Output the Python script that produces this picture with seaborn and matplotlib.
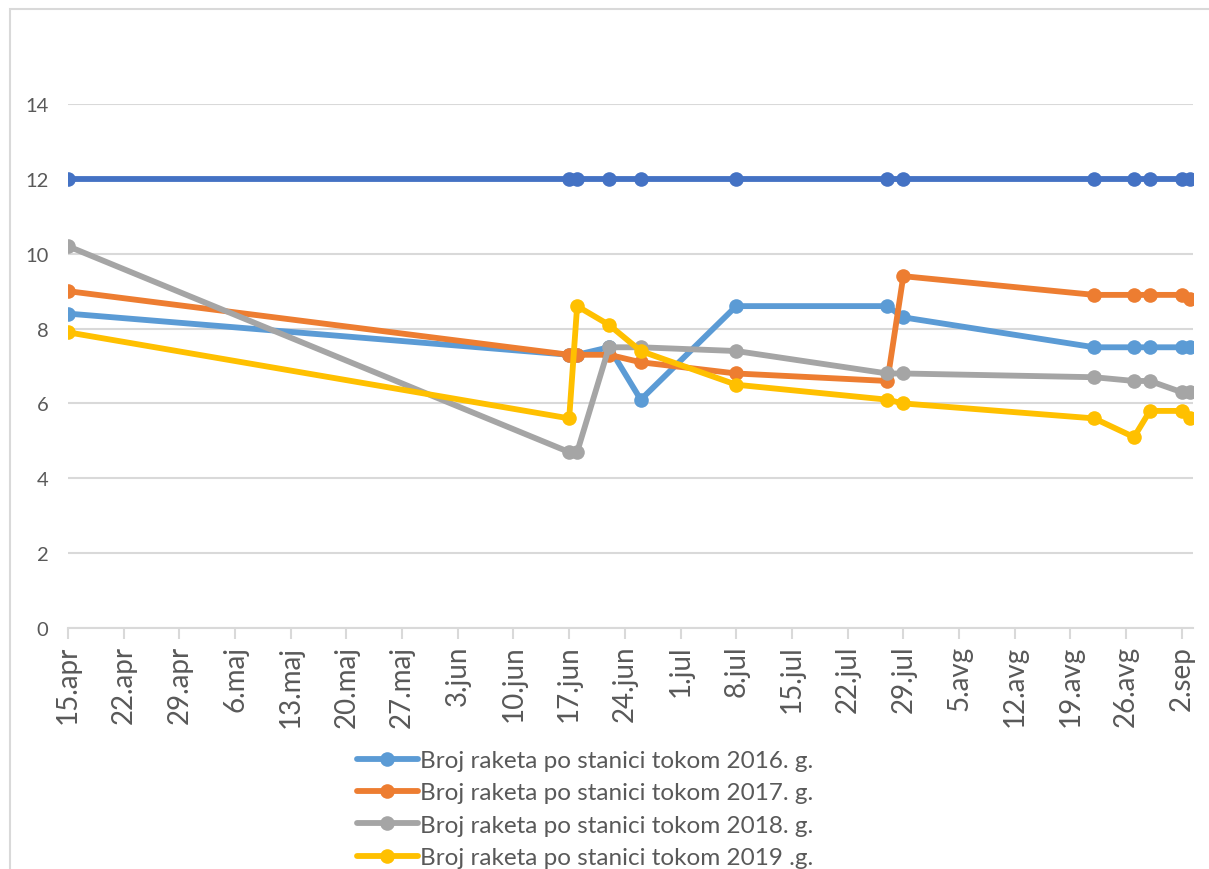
import seaborn as sns
from matplotlib import pyplot as plt
from matplotlib.patches import Rectangle
import pandas as pd

# dates of measurements (year is arbitrary)
dates = pd.to_datetime([
    "2019-04-15", "2019-06-17", "2019-06-18", "2019-06-22", "2019-06-26",
    "2019-07-08", "2019-07-27", "2019-07-29", "2019-08-22", "2019-08-27",
    "2019-08-29", "2019-09-02", "2019-09-03",
])

stanice = [12, 12, 12, 12, 12, 12, 12, 12, 12, 12, 12, 12, 12]
rakete_2016 = [8.4, 7.3, 7.3, 7.5, 6.1, 8.6, 8.6, 8.3, 7.5, 7.5, 7.5, 7.5, 7.5]
rakete_2017 = [9.0, 7.3, 7.3, 7.3, 7.1, 6.8, 6.6, 9.4, 8.9, 8.9, 8.9, 8.9, 8.8]
rakete_2018 = [10.2, 4.7, 4.7, 7.5, 7.5, 7.4, 6.8, 6.8, 6.7, 6.6, 6.6, 6.3, 6.3]
rakete_2019 = [7.9, 5.6, 8.6, 8.1, 7.4, 6.5, 6.1, 6.0, 5.6, 5.1, 5.8, 5.8, 5.6]

series_names = [
    "Broj raketa po stanici tokom 2016. g.",
    "Broj raketa po stanici tokom 2017. g.",
    "Broj raketa po stanici tokom 2018. g.",
    "Broj raketa po stanici tokom 2019 .g.",
]

tick_dates = pd.date_range("2019-04-15", "2019-09-02", freq="7D")
tick_labels = [
    "15.apr", "22.apr", "29.apr", "6.maj", "13.maj", "20.maj", "27.maj",
    "3.jun", "10.jun", "17.jun", "24.jun", "1.jul", "8.jul", "15.jul",
    "22.jul", "29.jul", "5.avg", "12.avg", "19.avg", "26.avg", "2.sep",
]

sns.set_theme(style="white")
plt.rcParams['font.family'] = ['Lato', 'DejaVu Sans']

fig = plt.figure(figsize=(12.09, 8.70), dpi=100)
ax = fig.add_axes([68 / 1209, 1 - 629 / 870, (1193 - 68) / 1209, (629 - 105) / 870])

# chart area border (cropped at right and bottom like the reference)
fig.patches.append(Rectangle((10 / 1209, -0.1), 1.2, 1 - 10 / 870 + 0.1,
                             transform=fig.transFigure, fill=False,
                             edgecolor='#D9D9D9', linewidth=1.5))

line_style = dict(marker='o', markersize=10.5, linewidth=4.2, markeredgewidth=0)

sns.lineplot(x=dates, y=stanice, color='#4472C4', ax=ax, **line_style)
colors = ['#5B9BD5', '#ED7D31', '#A5A5A5', '#FFC000']
for vals, name, c in zip([rakete_2016, rakete_2017, rakete_2018, rakete_2019], series_names, colors):
    sns.lineplot(x=dates, y=vals, color=c, label=name, ax=ax, **line_style)

ax.set_ylim(0, 14)
ax.set_yticks(range(0, 15, 2))
ax.set_xlim(pd.Timestamp("2019-04-15"), pd.Timestamp("2019-09-03 10:00"))
ax.set_xticks(tick_dates)
ax.set_xticklabels(tick_labels, rotation=90)
ax.set_xlabel("")
ax.set_ylabel("")

ax.grid(axis='y', color='#D9D9D9', linewidth=1.5)
ax.set_axisbelow(True)
for s in ['top', 'right', 'left']:
    ax.spines[s].set_visible(False)
ax.spines['bottom'].set_color('#D9D9D9')
ax.spines['bottom'].set_linewidth(1.5)
ax.tick_params(axis='x', which='major', bottom=True, length=8, width=1.5,
               color='#D9D9D9', labelsize=20, labelcolor='#595959', pad=4)
ax.tick_params(axis='y', length=0, labelsize=14.5, labelcolor='#595959', pad=14)

leg = ax.legend(loc='upper left', bbox_to_anchor=(357 / 1209, 1 - 751 / 870),
                bbox_transform=fig.transFigure, frameon=False, fontsize=17.5,
                handlelength=2.5, handletextpad=0.1, labelspacing=0.47,
                borderaxespad=0, borderpad=0)
for t in leg.get_texts():
    t.set_color('#595959')

fig.savefig("out.png", dpi=100)
